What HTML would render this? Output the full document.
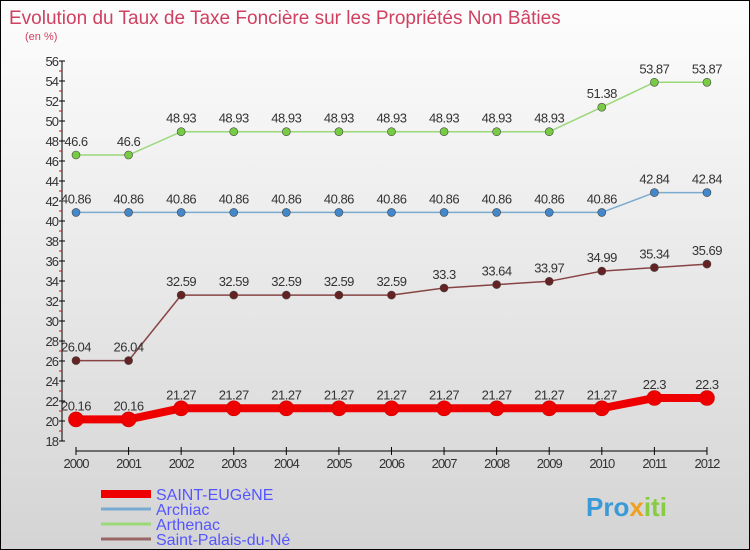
<!DOCTYPE html>
<html><head><meta charset="utf-8"><style>
body{margin:0}
#c{position:relative;width:748px;height:548px;border:1px solid #000;background:linear-gradient(#fdfdfd,#d4d4d4);overflow:hidden;font-family:"Liberation Sans",sans-serif}
</style></head><body>
<div id="c">
<svg id="s" width="748" height="548" xmlns="http://www.w3.org/2000/svg">
<text x="8" y="23" font-size="19" fill="#d04060">Evolution du Taux de Taxe Foncière sur les Propriétés Non Bâties</text>
<text x="24" y="39" font-size="11" fill="#d04060">(en %)</text>
<g id="g"></g>
<text x="585" y="515" font-size="26" font-weight="bold" fill="#3a9ad8">Pro<tspan fill="#f0a020">x</tspan><tspan fill="#8c4">iti</tspan></text>
</svg>
</div>
<script>
const years=[2000,2001,2002,2003,2004,2005,2006,2007,2008,2009,2010,2011,2012];
const yTicks=[18,20,22,24,26,28,30,32,34,36,38,40,42,44,46,48,50,52,54,56];
const seriesNames=["SAINT-EUGèNE","Archiac","Arthenac","Saint-Palais-du-Né"];
const stEugene=[20.16,20.16,21.27,21.27,21.27,21.27,21.27,21.27,21.27,21.27,21.27,22.3,22.3];
const archiac=[40.86,40.86,40.86,40.86,40.86,40.86,40.86,40.86,40.86,40.86,40.86,42.84,42.84];
const arthenac=[46.6,46.6,48.93,48.93,48.93,48.93,48.93,48.93,48.93,48.93,51.38,53.87,53.87];
const stPalais=[26.04,26.04,32.59,32.59,32.59,32.59,32.59,33.3,33.64,33.97,34.99,35.34,35.69];
const NS="http://www.w3.org/2000/svg",g=document.getElementById('g');
const X=i=>75+i*52.58, Y=v=>440-(v-18)*10;
function el(t,a){const e=document.createElementNS(NS,t);for(const k in a)e.setAttribute(k,a[k]);g.appendChild(e);return e;}
let e=el('line',{x1:61,y1:60,x2:61,y2:440,stroke:'#000'});

yTicks.forEach(v=>{
 let t=el('line',{x1:58,x2:64,y1:Y(v),y2:Y(v),stroke:'#000'});
 
 if(v<56){let m=el('line',{x1:58,x2:61,y1:Y(v+1),y2:Y(v+1),stroke:'#e00'});
 }
 let l=el('text',{x:57,y:Y(v)+5,'text-anchor':'end','font-size':13,fill:'#333','letter-spacing':'-1'});l.textContent=v;
 
});
e=el('line',{x1:X(0),y1:450,x2:X(12),y2:450,stroke:'#000'});

years.forEach((y,i)=>{
 let t=el('line',{x1:X(i),x2:X(i),y1:446,y2:454,stroke:'#000'});
 
 let l=el('text',{x:X(i),y:467,'text-anchor':'middle','font-size':13,fill:'#333','letter-spacing':'-1'});l.textContent=y;
 
});
function series(d,col,fill,w,r,name){
 let p=el('polyline',{points:d.map((v,i)=>X(i)+','+Y(v)).join(' '),fill:'none',stroke:col,'stroke-width':w});
 
 d.forEach((v,i)=>{
  let c=el('circle',{cx:X(i),cy:Y(v),r:r,fill:fill,stroke:col==='#e00'?'#c00':'#444','stroke-width':0.6});
  
  let t=el('text',{x:X(i),y:Y(v)-9,'text-anchor':'middle','font-size':13,fill:'#333','letter-spacing':'-0.5'});t.textContent=v;
  
 });
}
series(arthenac,'#9ad878','#7c4',1.5,4,'arthenac');
series(archiac,'#7aaad0','#48c',1.5,4,'archiac');
series(stPalais,'#844','#622',1.5,4,'saint-palais');
series(stEugene,'#e00','#e00',8,7.5,'saint-eugene');
const lc=['#e00','#7aaad0','#9ad878','#966'],lw=[8,3,3,3];
seriesNames.forEach((n,i)=>{
 const y=493+i*15;
 let l=el('line',{x1:100,x2:150,y1:y,y2:y,stroke:lc[i],'stroke-width':lw[i]});
 
 let t=el('text',{x:155,y:y+6,'font-size':16,fill:'#55f'});t.textContent=n;
 
});
</script>
</body></html>
